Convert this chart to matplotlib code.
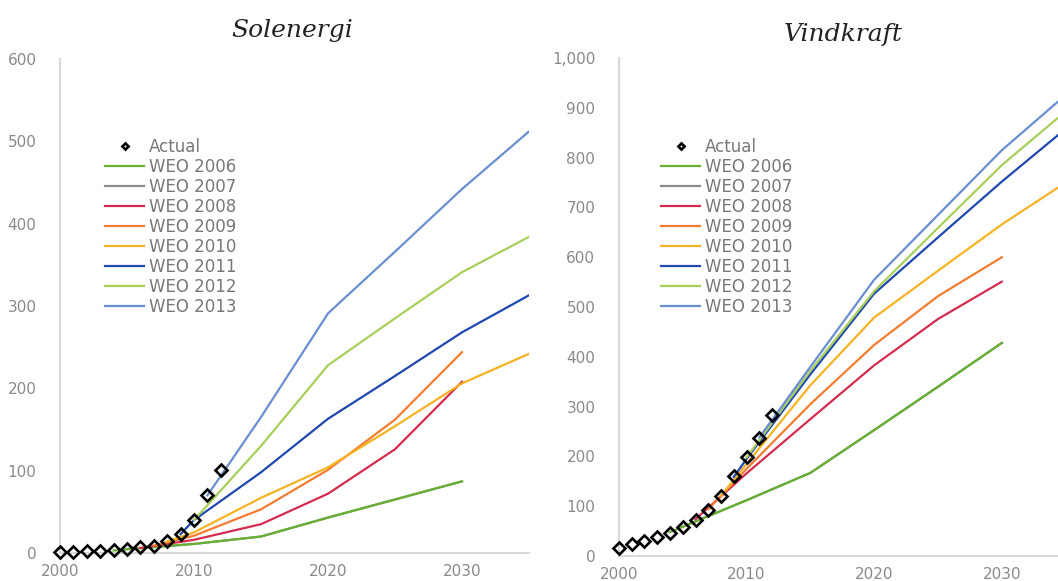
import matplotlib
matplotlib.use("Agg")
import matplotlib.pyplot as plt
from matplotlib.ticker import FuncFormatter

# ---- data (GW) ----
labels = ["WEO 2006", "WEO 2007", "WEO 2008", "WEO 2009",
          "WEO 2010", "WEO 2011", "WEO 2012", "WEO 2013"]
colors = ["#66b032", "#8c8c8c", "#d42c4e", "#f47c30",
          "#f5b324", "#1f48b0", "#a8cf5a", "#6a8fd0"]

actual_years = list(range(2000, 2013))

# Solenergi
solar_actual = [1, 1.5, 2, 2.5, 3.5, 5, 7, 9, 15, 23, 40, 70, 101]
solar_2006_x = [2004, 2010, 2015, 2020, 2025, 2030]
solar_2006_y = [3, 11, 20, 43, 65, 87]
solar_2007_x = [2005, 2010, 2015, 2020, 2025, 2030]
solar_2007_y = [5, 11, 20, 43, 65, 87]
solar_2008_x = [2006, 2010, 2015, 2020, 2025, 2030]
solar_2008_y = [6, 16, 35, 72, 126, 208]
solar_2009_x = [2007, 2010, 2015, 2020, 2025, 2030]
solar_2009_y = [9, 21, 53, 101, 162, 244]
solar_2010_x = [2008, 2010, 2015, 2020, 2025, 2030, 2035]
solar_2010_y = [14, 25, 67, 104, 154, 206, 242]
solar_2011_x = [2009, 2010, 2015, 2020, 2025, 2030, 2035]
solar_2011_y = [23, 40, 98, 163, 215, 268, 313]
solar_2012_x = [2010, 2015, 2020, 2025, 2030, 2035]
solar_2012_y = [40, 130, 228, 285, 341, 384]
solar_2013_x = [2011, 2015, 2020, 2025, 2030, 2035]
solar_2013_y = [70, 165, 291, 366, 442, 512]

# Vindkraft
wind_actual = [17, 25, 31, 39, 47, 59, 73, 93, 121, 160, 198, 238, 283]
wind_2006_x = [2004, 2010, 2015, 2020, 2025, 2030]
wind_2006_y = [48, 112, 167, 253, 340, 428]
wind_2007_x = [2005, 2010, 2015, 2020, 2025, 2030]
wind_2007_y = [59, 112, 167, 253, 340, 428]
wind_2008_x = [2006, 2010, 2015, 2020, 2025, 2030]
wind_2008_y = [74, 166, 275, 383, 476, 551]
wind_2009_x = [2007, 2010, 2015, 2020, 2025, 2030]
wind_2009_y = [94, 175, 305, 424, 522, 600]
wind_2010_x = [2008, 2010, 2015, 2020, 2025, 2030, 2035]
wind_2010_y = [121, 185, 343, 479, 573, 666, 750]
wind_2011_x = [2009, 2010, 2015, 2020, 2025, 2030, 2035]
wind_2011_y = [159, 195, 365, 527, 640, 752, 858]
wind_2012_x = [2010, 2015, 2020, 2025, 2030, 2035]
wind_2012_y = [198, 372, 532, 659, 785, 893]
wind_2013_x = [2011, 2015, 2020, 2025, 2030, 2035]
wind_2013_y = [238, 380, 555, 685, 815, 926]

solar_series = [(solar_2006_x, solar_2006_y), (solar_2007_x, solar_2007_y),
                (solar_2008_x, solar_2008_y), (solar_2009_x, solar_2009_y),
                (solar_2010_x, solar_2010_y), (solar_2011_x, solar_2011_y),
                (solar_2012_x, solar_2012_y), (solar_2013_x, solar_2013_y)]
wind_series = [(wind_2006_x, wind_2006_y), (wind_2007_x, wind_2007_y),
               (wind_2008_x, wind_2008_y), (wind_2009_x, wind_2009_y),
               (wind_2010_x, wind_2010_y), (wind_2011_x, wind_2011_y),
               (wind_2012_x, wind_2012_y), (wind_2013_x, wind_2013_y)]

tick_grey = "#8a8a8a"
spine_grey = "#d9d9d9"

fig = plt.figure(figsize=(10.58, 5.81), dpi=100)


def draw_panel(ax, series, actual, ymax, ystep, xmax, legend_xy):
    for i, (xs, ys) in enumerate(series):
        # WEO 2007 sits underneath the 2006 line
        z = 1 if i == 1 else 2
        ax.plot(xs, ys, color=colors[i], lw=1.6, label=labels[i],
                zorder=z, clip_on=True)
    ax.plot(actual_years, actual, ls="none", marker="D", ms=6.3,
            mfc="none", mec="black", mew=1.9, label="Actual",
            zorder=5, clip_on=False)

    ax.set_xlim(2000, xmax)
    ax.set_ylim(0, ymax)
    ax.set_xticks([2000, 2010, 2020, 2030])
    ax.set_yticks(range(0, ymax + 1, ystep))
    ax.yaxis.set_major_formatter(FuncFormatter(lambda v, p: f"{int(v):,}"))
    for s in ["top", "right"]:
        ax.spines[s].set_visible(False)
    for s in ["left", "bottom"]:
        ax.spines[s].set_color(spine_grey)
        ax.spines[s].set_linewidth(1.5)
    ax.tick_params(axis="both", length=0, colors=tick_grey, labelsize=11)
    ax.tick_params(axis="y", pad=17)
    ax.tick_params(axis="x", pad=8)

    handles, labs = ax.get_legend_handles_labels()
    order = [len(handles) - 1] + list(range(len(handles) - 1))
    leg = fig.legend([handles[k] for k in order], [labs[k] for k in order],
                     loc="upper left", bbox_to_anchor=legend_xy,
                     bbox_transform=fig.transFigure, frameon=False,
                     fontsize=12, handlelength=2.35, handletextpad=0.3,
                     labelspacing=0.12, borderpad=0, borderaxespad=0,
                     markerscale=0.5)
    for t in leg.get_texts():
        t.set_color("#777777")


ax1 = fig.add_axes([0.0567, 0.0482, 0.4433, 0.8503])
draw_panel(ax1, solar_series, solar_actual, 600, 100, 2035,
           (0.0992, 0.762))

ax2 = fig.add_axes([0.585, 0.043, 0.415, 0.857])
draw_panel(ax2, wind_series, wind_actual, 1000, 100, 2034.4,
           (0.6248, 0.762))

fig.text(292 / 1058, 1 - 30 / 581, "Solenergi", family="DejaVu Serif",
         style="italic", fontsize=18, ha="center", va="center",
         color="#222222")
fig.text(843 / 1058, 1 - 35 / 581, "Vindkraft", family="DejaVu Serif",
         style="italic", fontsize=18, ha="center", va="center",
         color="#222222")

fig.savefig("out.png", dpi=100)
